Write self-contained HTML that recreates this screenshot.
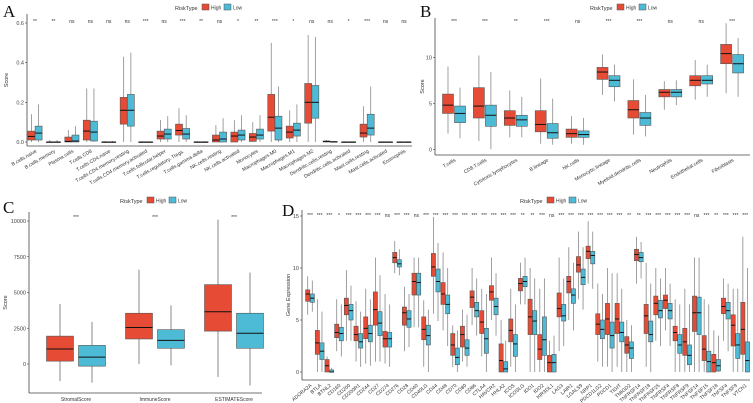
<!DOCTYPE html>
<html><head><meta charset="utf-8">
<style>
html,body{margin:0;padding:0;background:#fff;}
svg{display:block;font-family:"Liberation Sans",sans-serif;}
</style></head>
<body>
<svg id="fig" width="753" height="403" viewBox="0 0 753 403" xmlns="http://www.w3.org/2000/svg">
<rect width="753" height="403" fill="#fff"/>
<g font-family="Liberation Serif, serif" font-size="17" fill="#111">
<text x="3" y="17">A</text>
<text x="420" y="17">B</text>
<text x="3" y="213">C</text>
<text x="282" y="216">D</text>
</g>
</svg>
<script>
// ---------- Panel A data: [lo, q1, median, q3, hi] ----------
const aCats=["B.cells.naive","B.cells.memory","Plasma.cells","T.cells.CD8","T.cells.CD4.naive","T.cells.CD4.memory.resting","T.cells.CD4.memory.activated","T.cells.follicular.helper","T.cells.regulatory..Tregs.","T.cells.gamma.delta","NK.cells.resting","NK.cells.activated","Monocytes","Macrophages.M0","Macrophages.M1","Macrophages.M2","Dendritic.cells.resting","Dendritic.cells.activated","Mast.cells.resting","Mast.cells.activated","Eosinophils"];
const aHigh=[[0,.01,.028,.055,.14],[0,0,0,0,.01],[0,0,.003,.025,.06],[0,.01,.055,.11,.27],[0,0,0,0,.005],[0,.09,.16,.225,.43],[0,0,0,0,.004],[0,.015,.03,.055,.11],[0,.035,.058,.09,.17],[0,0,0,0,.004],[0,0,.01,.035,.085],[0,0,.03,.05,.11],[0,.003,.025,.043,.1],[0,.055,.125,.24,.5],[0,.02,.05,.08,.16],[0,.095,.2,.295,.54],[0,0,.003,.005,.01],[0,0,0,0,.003],[0,.025,.045,.09,.18],[0,0,0,0,.002],[0,0,0,0,.003]];
const aLow=[[0,.01,.045,.08,.19],[0,0,0,0,.01],[0,0,.005,.035,.08],[0,.005,.05,.105,.27],[0,0,0,0,.005],[0,.08,.16,.24,.45],[0,0,0,0,.003],[0,.015,.04,.065,.13],[0,.015,.04,.068,.135],[0,0,0,0,.004],[0,0,.015,.05,.12],[0,.01,.035,.06,.135],[0,.015,.035,.065,.135],[0,.01,.07,.13,.28],[0,.03,.06,.095,.19],[0,.12,.2,.285,.53],[0,0,0,.003,.006],[0,0,0,0,.003],[0,.035,.07,.14,.28],[0,0,0,0,.002],[0,0,0,0,.003]];
const aSig=["**","**","ns","ns","ns","ns","***","ns","***","**","ns","*","**","***","*","ns","ns","*","***","ns","ns"];
const aTicks=[0,0.2,0.4,0.6];
// ---------- Panel B data ----------
const bCats=["T.cells","CD8.T.cells","Cytotoxic.lymphocytes","B.lineage","NK.cells","Monocytic.lineage","Myeloid.dendritic.cells","Neutrophils","Endothelial.cells","Fibroblasts"];
const bHigh=[[1.7,3.9,4.8,6.0,9],[0.9,3.4,4.7,6.7,10.2],[1.3,2.6,3.4,4.2,6.4],[0.6,1.9,2.7,4.2,7.7],[0.6,1.3,1.7,2.2,3.6],[5.9,7.6,8.4,8.9,10.3],[1.6,3.4,4.3,5.3,7.6],[4.3,5.7,6.2,6.5,7.4],[5.4,6.9,7.5,8.0,9.7],[6.1,9.3,10.4,11.4,13.7]];
const bLow=[[1.2,2.9,3.9,4.7,6.7],[0,2.5,3.7,4.8,8.4],[1.3,2.5,3.2,3.7,5.7],[0.5,1.2,1.8,2.8,5.5],[0.5,1.3,1.6,2.0,3.4],[5.2,6.8,7.5,8.0,9.2],[1.4,2.6,3.4,4.0,5.9],[4.8,5.7,6.2,6.5,7.5],[5.7,7.1,7.5,8.0,9.2],[5.7,8.3,9.3,10.3,12.1]];
const bSig=["***","***","**","***","ns","***","***","ns","ns","***"];
const bTicks=[0,5,10];
// ---------- Panel C data ----------
const cCats=["StromalScore","ImmuneScore","ESTIMATEScore"];
const cHigh=[[-1200,200,1050,1950,4200],[0,1750,2550,3550,6600],[-900,2300,3650,5550,10100]];
const cLow=[[-1300,-150,480,1300,2950],[-100,1100,1650,2400,4100],[-1500,1100,2150,3550,6400]];
const cSig=["***","***","***"];
const cTicks=[0,2500,5000,7500,10000];
// ---------- Panel D data ----------
const dCats=["ADORA2A","BTLA","BTNL2","CD160","CD200","CD200R1","CD244","CD27","CD274","CD276","CD28","CD40","CD40LG","CD44","CD48","CD70","CD80","CD86","CTLA4","HAVCR2","HHLA2","ICOS","ICOSLG","IDO1","IDO2","KIR3DL1","LAG3","LAIR1","LGALS9","NRP1","PDCD1LG2","PDCD1","TIGIT","TMIGD2","TNFRSF14","TNFRSF18","TNFRSF25","TNFRSF4","TNFRSF8","TNFRSF9","TNFSF14","TNFSF15","TNFSF18","TNFSF4","TNFSF9","VTCN1"];
const dHigh=[[5.5,6.8,7.5,7.9,9.2],[0,1.7,2.8,4.0,7],[0,0,0.6,1.2,1.5],[2,3.3,3.8,4.6,7],[3,5.5,6.4,7.1,9.8],[1,3,3.6,4.4,6.8],[0.8,3.2,4.2,5.3,8],[1,4.5,6,7.7,11],[0.8,2.4,3.2,3.9,7.5],[9.5,10.5,11,11.5,12.6],[2,4.5,5.7,6.25,8.2],[4.3,7.4,8.7,9.5,11],[0.5,3.1,4.1,5.3,6.9],[5.6,9.2,10.1,11.4,14.9],[4,6.5,7.5,8.6,11.5],[0.5,1.6,2.6,3.7,4.5],[1,2.4,3.6,4.4,6],[4.5,6.2,7.2,7.8,10],[1.5,3.7,4.8,5.9,8],[5,6.9,7.7,8.3,11],[0,0,1.1,2.7,5],[0.5,2.9,4,5.1,8],[6.5,7.8,8.5,9,10.5],[0,3.6,5.3,7,10],[0,1.2,2.2,3.6,8],[0,0,0.9,1.6,3],[2,5.3,6.1,7.6,11],[5,7.6,8.7,9.2,12],[7,9.6,10.3,11.1,13.5],[8.5,10.9,11.6,12.1,14.5],[1,3.6,4.6,5.6,8.5],[0.5,3.6,5.1,6.6,10],[0.5,3.7,5.1,6.6,9.5],[0,1.8,2.6,3.4,5],[8.5,10.7,11.3,11.8,13],[0.5,3.7,5.4,6.5,10.5],[3,5.5,6.6,7.3,10],[4,6.1,6.9,7.4,10],[0,3,3.8,4.4,7],[0,1.6,2.9,4.2,8],[0,3.9,5.7,7.3,11],[0,1.1,2.2,3.5,7],[0,0,0.9,1.7,4],[3,5.6,6.3,7.1,9],[0,2.5,4.5,5.5,8],[0,1.7,4.1,6.7,13]];
const dLow=[[5.8,6.7,7.1,7.5,8.8],[0,1.2,2.0,2.8,5.8],[0,0,0,0.2,0.4],[1.5,3,3.7,4.3,6.5],[3,5,5.9,6.5,8.3],[0.5,2.3,2.9,3.7,5.8],[0.6,2.9,3.7,4.5,7],[1,3.5,4.7,5.8,9.3],[0.5,2.4,3.2,3.8,6.5],[9.3,10.1,10.4,10.8,11.8],[2.4,4.3,5.1,5.9,7.5],[4.3,7.4,8.6,9.5,11],[0,2.6,3.5,4.5,6],[4.9,7.7,8.7,9.9,12.4],[2.5,5.6,6.5,7.4,10],[0,0.7,1.4,2.3,4],[0.5,1.6,2.3,3.1,5.5],[3.5,5.3,5.9,6.7,9],[0,1.8,3.2,4.2,7.5],[3.5,5.5,6.3,7.1,9.5],[0,0,0.3,1,3],[0,1.5,2.7,3.6,6.5],[6.5,8.2,8.7,9.2,11],[0,3.6,4.9,5.9,9],[0,1.6,3.1,5.3,9],[0,0,0.9,1.7,3.5],[2.5,4.9,5.4,6.5,9],[4,6.6,7.4,8,10.5],[6,8.4,9.1,9.9,12],[8,10.4,11.2,11.6,13.5],[0.5,3.2,4.1,5,7.5],[0,2.3,3.5,4.8,9.5],[0,2.9,3.8,4.8,8],[0,1.3,2.3,2.9,4.5],[9,10.6,11,11.5,12.5],[0,2.9,3.6,4.9,8.5],[2.5,5.2,5.9,6.9,9],[2.5,5.1,5.9,6.6,8.5],[0,1.8,2.6,3.6,6.5],[0,0.7,1.6,2.6,6.5],[0,3.6,5.7,7.2,11],[0,0,1,2,6.5],[0,0.1,0.6,1.2,3.5],[2,5.1,5.9,6.7,8.5],[0,1.3,2.6,3.7,8],[0,0,1.1,2.9,10]];
const dSig=["***","***","***","*","***","***","***","***","ns","***","***","ns","***","***","***","***","***","***","***","***","***","***","**","**","***","ns","***","***","***","***","***","***","***","**","**","***","***","***","***","***","ns","***","**","***","***","***"];
const dTicks=[0,5,10,15];

const NS="http://www.w3.org/2000/svg";
const svg=document.getElementById('fig');
const RED="#E64B35", BLUE="#4DBBD5";
function mk(tag,attrs,parent){const e=document.createElementNS(NS,tag);for(const k in attrs)e.setAttribute(k,attrs[k]);(parent||svg).appendChild(e);return e;}

function legend(cx,y,name){
  const g=mk('g',{});
  
  
  const t=mk('text',{x:cx-40,y:y+3,'font-size':5.5,fill:'#333'},g);t.textContent='RiskType';
  const r1=mk('rect',{x:cx-13,y:y-3,width:7,height:6,fill:RED,stroke:'#555','stroke-width':0.5},g);
  
  
  const t1=mk('text',{x:cx-4,y:y+2.5,'font-size':5,fill:'#333'},g);t1.textContent='High';
  const r2=mk('rect',{x:cx+9,y:y-3,width:7,height:6,fill:BLUE,stroke:'#555','stroke-width':0.5},g);
  
  
  const t2=mk('text',{x:cx+18,y:y+2.5,'font-size':5,fill:'#333'},g);t2.textContent='Low';
}

function panel(o){
  const g=mk('g',{});
  
  
  const ys=v=>o.y0-(v-o.vmin)*(o.y0-o.y1)/(o.vmax-o.vmin);
  const xs=i=>o.xf+i*o.step;
  // axes
  const ax=mk('line',{x1:o.ax,y1:o.top,x2:o.ax,y2:o.bottom,stroke:'#444','stroke-width':0.8},g);
  
  
  const bx=mk('line',{x1:o.ax,y1:o.bottom,x2:o.right,y2:o.bottom,stroke:'#444','stroke-width':0.8},g);
  
  
  o.ticks.forEach(t=>{
    const y=ys(t);
    mk('line',{x1:o.ax-2,y1:y,x2:o.ax,y2:y,stroke:'#444','stroke-width':0.6},g);
    const tx=mk('text',{x:o.ax-3,y:y+2,'font-size':o.tfs||5.5,'text-anchor':'end',fill:'#444'},g);
    tx.textContent=o.tickFmt?o.tickFmt(t):t;
    
    
  });
  const yt=mk('text',{x:0,y:0,'font-size':5.5,'text-anchor':'middle',fill:'#333',transform:`translate(${o.ytx},${(o.top+o.bottom)/2}) rotate(-90)`},g);
  yt.textContent=o.ytitle;
  
  
  o.cats.forEach((c,i)=>{
    const cx=xs(i);
    [[o.high[i],RED,-o.off],[o.low[i],BLUE,o.off]].forEach(([d,col,dx],k)=>{
      const x=cx+dx, w=o.bw;
      const bg=mk('g',{},g);
      
      
      mk('line',{x1:x,y1:ys(d[0]),x2:x,y2:ys(d[4]),stroke:'#888','stroke-width':o.lw||0.8},bg);
      mk('rect',{x:x-w/2,y:ys(d[3]),width:w,height:Math.max(0.6,ys(d[1])-ys(d[3])),fill:col,stroke:'#555','stroke-width':0.6},bg);
      mk('line',{x1:x-w/2,y1:ys(d[2]),x2:x+w/2,y2:ys(d[2]),stroke:'#111','stroke-width':1},bg);
    });
    const s=mk('text',{x:cx,y:o.sigY,'font-size':5,'text-anchor':'middle',fill:'#333'},g);
    s.textContent=o.sig[i];
    
    
    const l=mk('text',{x:0,y:0,'font-size':o.lfs||5,'text-anchor':o.rot?'end':'middle',fill:'#333',transform:o.rot?`translate(${cx+2},${o.bottom+6}) rotate(${o.rot})`:`translate(${cx},${o.bottom+8})`},g);
    l.textContent=c;
    
    
  });
}

legend(215,7,'legend-a');
legend(630,7,'legend-b');
legend(160,200,'legend-c');
legend(560,200,'legend-d');

panel({name:'panel-a',cats:aCats,high:aHigh,low:aLow,sig:aSig,ticks:aTicks,vmin:0,vmax:0.6,y0:142,y1:23,ax:27,top:14,bottom:146,right:412,xf:35,step:18.45,off:3.6,bw:7,sigY:23,ytx:8,ytitle:'Score',rot:-30,lfs:5,tickFmt:t=>t.toFixed(1)});
panel({name:'panel-b',cats:bCats,high:bHigh,low:bLow,sig:bSig,ticks:bTicks,vmin:0,vmax:10,y0:149.3,y1:57.3,ax:435,top:18,bottom:155,right:750,xf:454,step:30.9,off:6,bw:11,sigY:23,ytx:424,ytitle:'Score',rot:-30,lfs:5});
panel({name:'panel-c',cats:cCats,high:cHigh,low:cLow,sig:cSig,ticks:cTicks,vmin:0,vmax:10000,y0:364,y1:221,ax:29,top:212,bottom:393,right:262,xf:76,step:79,off:16,bw:27,sigY:219,ytx:7,ytitle:'Score',lw:1});
panel({name:'panel-d',cats:dCats,high:dHigh,low:dLow,sig:dSig,ticks:dTicks,vmin:0,vmax:15,y0:372,y1:216,ax:302,top:210,bottom:380,right:750,xf:310,step:9.67,off:2.3,bw:4.2,sigY:217,ytx:290,ytitle:'Gene Expression',rot:-40,lfs:5});
</script>
</body></html>
